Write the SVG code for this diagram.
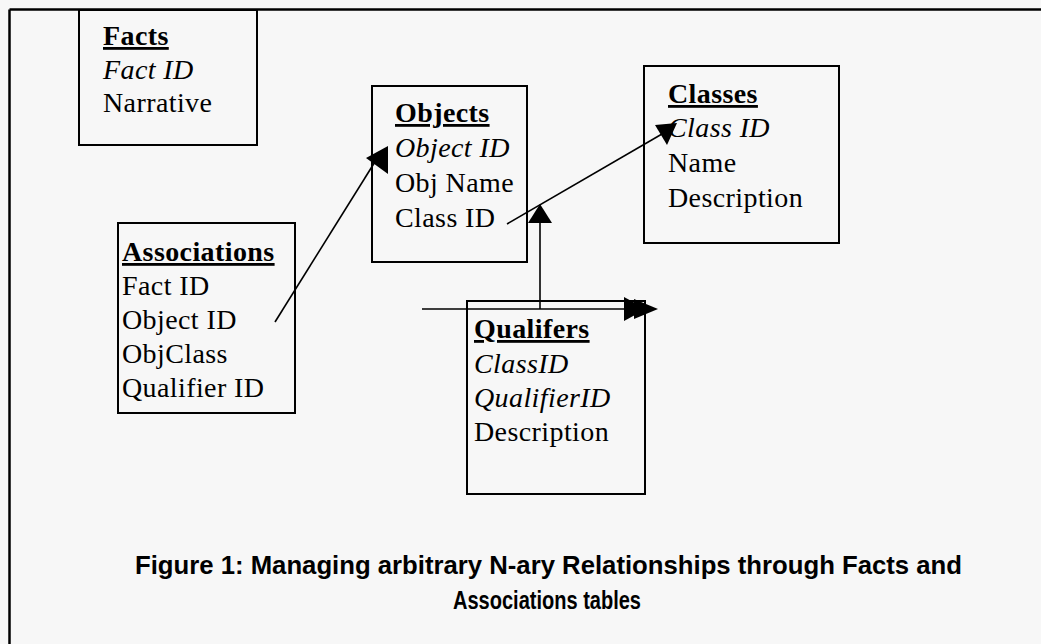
<svg xmlns="http://www.w3.org/2000/svg" width="1041" height="644" viewBox="0 0 1041 644">
<style>
.t{font-family:"Liberation Serif","Times New Roman",serif;font-size:28px;letter-spacing:0.4px;fill:#000}
.h{font-weight:bold;text-decoration:underline}
.i{font-style:italic}
.box{fill:none;stroke:#000;stroke-width:2}
.ln{stroke:#000;stroke-width:1.6;fill:none}
.ah{fill:#000;stroke:none}
.cap{font-family:"Liberation Sans",Arial,sans-serif;font-weight:bold;font-size:25px;fill:#000}
</style>
<rect x="0" y="0" width="1041" height="644" fill="#f7f7f7"/>
<g id="frame">
<line x1="9.5" y1="9.5" x2="1041" y2="9.5" stroke="#000" stroke-width="2.5"/>
<line x1="9.5" y1="9.5" x2="9.5" y2="644" stroke="#000" stroke-width="2.5"/>
</g>
<g id="connectors">
<line class="ln" x1="275" y1="322" x2="378" y2="157"/>
<polygon class="ah" points="366,158 388,146 388,174"/>
<line class="ln" x1="507" y1="224" x2="662" y2="134"/>
<polygon class="ah" points="655,125 677,123 667,145"/>
<line class="ln" x1="540" y1="309" x2="540" y2="220"/>
<polygon class="ah" points="540,204 528,223 552,223"/>
<line class="ln" x1="422" y1="309" x2="630" y2="309" stroke-width="2"/>
<polygon class="ah" points="624,297 646,309 624,321"/>
<polygon class="ah" points="634,299 658,309 634,319"/>
</g>
<g id="facts">
<rect class="box" x="79" y="10" width="178" height="135"/>
<text class="t h" x="103" y="45">Facts</text>
<text class="t i" x="103" y="79">Fact ID</text>
<text class="t" x="103" y="112">Narrative</text>
</g>
<g id="objects">
<rect class="box" x="372" y="86" width="155" height="176"/>
<text class="t h" x="395" y="122">Objects</text>
<text class="t i" x="395" y="157">Object ID</text>
<text class="t" x="395" y="192">Obj Name</text>
<text class="t" x="395" y="227">Class ID</text>
</g>
<g id="classes">
<rect class="box" x="644" y="66" width="195" height="177"/>
<text class="t h" x="668" y="103">Classes</text>
<text class="t i" x="668" y="137">Class ID</text>
<text class="t" x="668" y="172">Name</text>
<text class="t" x="668" y="207">Description</text>
</g>
<g id="associations">
<rect class="box" x="118" y="223" width="177" height="190"/>
<text class="t h" x="122" y="261">Associations</text>
<text class="t" x="122" y="295">Fact ID</text>
<text class="t" x="122" y="329">Object ID</text>
<text class="t" x="122" y="363">ObjClass</text>
<text class="t" x="122" y="397">Qualifier ID</text>
</g>
<g id="qualifiers">
<rect class="box" x="467" y="301" width="178" height="193"/>
<text class="t h" x="474" y="338">Qualifers</text>
<text class="t i" x="474" y="373">ClassID</text>
<text class="t i" x="474" y="407">QualifierID</text>
<text class="t" x="474" y="441">Description</text>
</g>
<g id="caption">
<text class="cap" x="135" y="574" textLength="827" lengthAdjust="spacingAndGlyphs">Figure 1: Managing arbitrary N-ary Relationships through Facts and</text>
<text class="cap" x="453" y="609" textLength="188" lengthAdjust="spacingAndGlyphs">Associations tables</text>
</g>
</svg>
